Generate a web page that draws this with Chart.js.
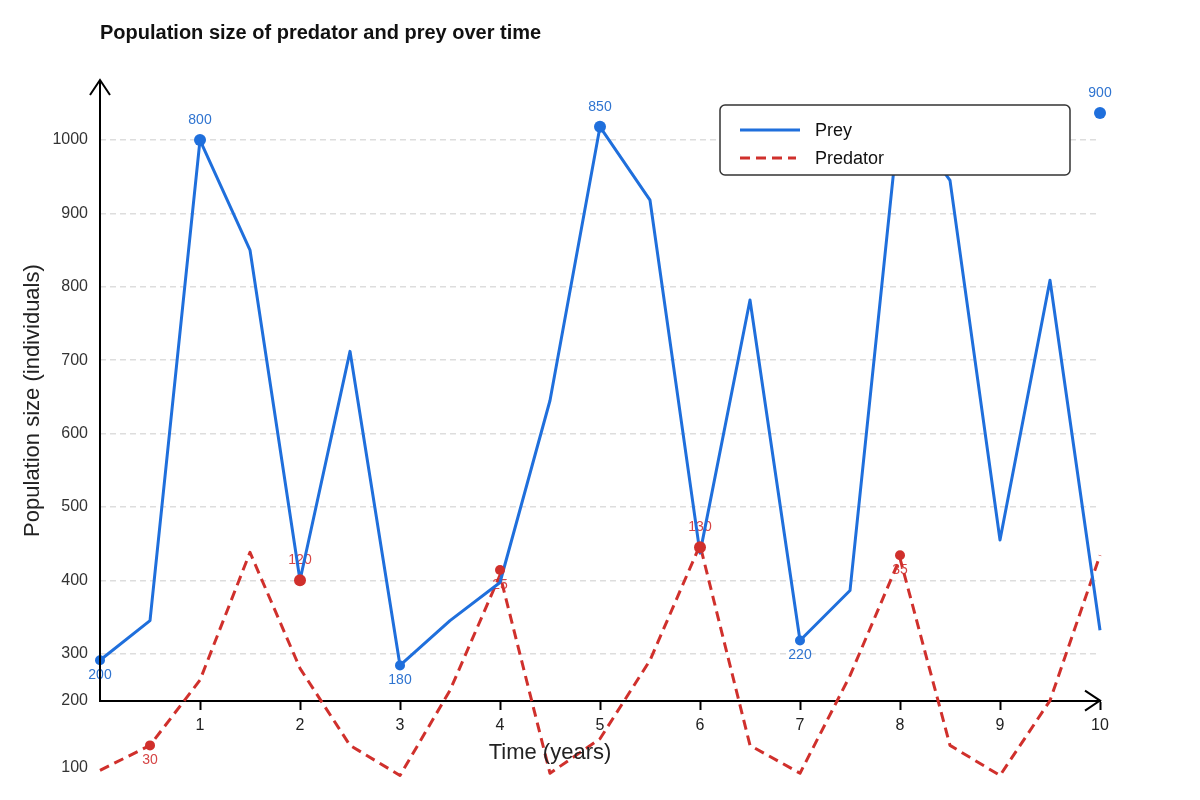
<!DOCTYPE html>
<html>
<head>
<meta charset="utf-8">
<script src="https://cdn.jsdelivr.net/npm/chart.js@4.4.1/dist/chart.umd.min.js"></script>
<style>
  html, body { margin: 0; padding: 0; background: #ffffff; }
  #wrap { width: 1200px; height: 800px; position: relative; }
</style>
</head>
<body>
<div id="wrap"><canvas id="c"></canvas></div>
<script>
// ---- data ----
const years = [0, 0.5, 1, 1.5, 2, 2.5, 3, 3.5, 4, 4.5, 5, 5.5, 6, 6.5, 7, 7.5, 8, 8.5, 9, 9.5, 10];
const preyValues = [291, 345, 1000, 850, 400, 712, 284, 345, 397, 645, 1018, 918, 437, 782, 318, 386, 1040, 945, 455, 809, 332];
const predatorValues = [141, 175, 264, 438, 280, 175, 134, 250, 407, 137, 184, 291, 448, 175, 137, 270, 430, 175, 134, 236, 434];

const preyMarkerYears = [0, 1, 3, 5, 7, 10];
const preyMarkerValues = [291, 1000, 284, 1018, 318, 1037];
const preyMarkerLabels = ['200', '800', '180', '850', '220', '900'];

const predatorMarkerYears = [0.5, 2, 4, 6, 8];
const predatorMarkerValues = [175, 400, 414, 445, 434];
const predatorMarkerLabels = ['30', '120', '25', '130', '35'];

const xTickValues = [1, 2, 3, 4, 5, 6, 7, 8, 9, 10];
const yTickValues = [145, 236, 300, 400, 500, 600, 700, 800, 900, 1000];
const yTickLabels = ['100', '200', '300', '400', '500', '600', '700', '800', '900', '1000'];
const xAxisBaseValue = 236;

const chartTitle = 'Population size of predator and prey over time';
const xTitle = 'Time (years)';
const yTitle = 'Population size (individuals)';
const seriesNames = ['Prey', 'Predator'];

// ---- styles ----
const PREY = '#1f6fdc';
const PRED = '#d0302c';
const PREY_TXT = '#2f74d0';
const PRED_TXT = '#d54444';
const FONT = "'Liberation Sans', Arial, sans-serif";

function isBig(labels, i) {
  const nums = labels.map(Number);
  return Number(labels[i]) > Math.max(...nums) / 2;
}

const markerLabelPlugin = {
  id: 'markerLabels',
  beforeDatasetsDraw(chart) {
    const ctx = chart.ctx;
    ctx.save();
    ctx.font = '14px ' + FONT;
    ctx.textAlign = 'center';
    ctx.textBaseline = 'middle';
    chart.data.datasets.forEach((ds, di) => {
      if (!ds.markerLabels) return;
      const meta = chart.getDatasetMeta(di);
      meta.data.forEach((pt, i) => {
        const big = isBig(ds.markerLabels, i);
        ctx.fillStyle = ds.labelColor;
        ctx.fillText(ds.markerLabels[i], pt.x, big ? pt.y - 20 : pt.y + 15);
      });
    });
    ctx.restore();
  }
};

const axesPlugin = {
  id: 'axesArrows',
  afterDatasetsDraw(chart) {
    const ctx = chart.ctx;
    const xs = chart.scales.x, ys = chart.scales.y;
    const x0 = xs.getPixelForValue(0);
    const x1 = xs.getPixelForValue(10);
    const yb = ys.getPixelForValue(xAxisBaseValue);
    const yt = chart.chartArea.top;
    ctx.save();
    ctx.strokeStyle = '#000';
    ctx.lineWidth = 2;
    ctx.lineCap = 'butt';
    ctx.beginPath();
    ctx.moveTo(x0, yb + 1);
    ctx.lineTo(x0, yt);
    ctx.stroke();
    ctx.beginPath();
    ctx.moveTo(x0 - 10, yt + 15);
    ctx.lineTo(x0, yt);
    ctx.lineTo(x0 + 10, yt + 15);
    ctx.stroke();
    ctx.beginPath();
    ctx.moveTo(x1 - 15, yb - 10);
    ctx.lineTo(x1, yb);
    ctx.lineTo(x1 - 15, yb + 10);
    ctx.stroke();
    // axis titles
    ctx.fillStyle = '#222';
    ctx.font = '22px ' + FONT;
    ctx.textAlign = 'center';
    ctx.textBaseline = 'middle';
    ctx.fillText(xTitle, xs.getPixelForValue(4.5), yb + 52);
    ctx.translate(33, ys.getPixelForValue(600) - 33);
    ctx.rotate(-Math.PI / 2);
    ctx.fillText(yTitle, 0, 0);
    ctx.restore();
  }
};

const legendPlugin = {
  id: 'boxLegend',
  afterDraw(chart) {
    const ctx = chart.ctx;
    const bx = 720, by = 105, bw = 350, bh = 70;
    ctx.save();
    ctx.beginPath();
    ctx.roundRect(bx, by, bw, bh, 5);
    ctx.fillStyle = '#ffffff';
    ctx.fill();
    ctx.lineWidth = 1.5;
    ctx.strokeStyle = '#333333';
    ctx.stroke();
    const items = [chart.data.datasets[0], chart.data.datasets[1]];
    items.forEach((ds, i) => {
      const y = by + 25 + i * 28;
      ctx.beginPath();
      ctx.setLineDash(ds.borderDash || []);
      ctx.strokeStyle = ds.borderColor;
      ctx.lineWidth = 3;
      ctx.moveTo(bx + 20, y);
      ctx.lineTo(bx + (ds.borderDash ? 76 : 80), y);
      ctx.stroke();
      ctx.setLineDash([]);
      ctx.fillStyle = '#111';
      ctx.font = '18px ' + FONT;
      ctx.textAlign = 'left';
      ctx.textBaseline = 'middle';
      ctx.fillText(ds.label, bx + 95, y + 1);
    });
    ctx.restore();
  }
};

const toXY = (xsArr, ysArr) => xsArr.map((x, i) => ({ x: x, y: ysArr[i] }));

new Chart(document.getElementById('c'), {
  type: 'line',
  data: {
    datasets: [
      {
        label: seriesNames[0],
        data: toXY(years, preyValues),
        borderColor: PREY,
        backgroundColor: PREY,
        borderWidth: 3,
        borderJoinStyle: 'round',
        pointRadius: 0,
        tension: 0,
        fill: false,
        clip: false,
        order: 2
      },
      {
        label: seriesNames[1],
        data: toXY(years, predatorValues),
        borderColor: PRED,
        backgroundColor: PRED,
        borderWidth: 3,
        borderDash: [10, 6],
        borderJoinStyle: 'round',
        pointRadius: 0,
        tension: 0,
        fill: false,
        clip: false,
        order: 3
      },
      {
        label: seriesNames[0] + ' markers',
        type: 'scatter',
        data: toXY(preyMarkerYears, preyMarkerValues),
        markerLabels: preyMarkerLabels,
        labelColor: PREY_TXT,
        backgroundColor: PREY,
        borderColor: PREY,
        pointRadius: (c) => isBig(preyMarkerLabels, c.dataIndex) ? 6 : 5,
        borderWidth: 0,
        showLine: false,
        clip: false,
        order: 1
      },
      {
        label: seriesNames[1] + ' markers',
        type: 'scatter',
        data: toXY(predatorMarkerYears, predatorMarkerValues),
        markerLabels: predatorMarkerLabels,
        labelColor: PRED_TXT,
        backgroundColor: PRED,
        borderColor: PRED,
        pointRadius: (c) => isBig(predatorMarkerLabels, c.dataIndex) ? 6 : 5,
        borderWidth: 0,
        showLine: false,
        clip: false,
        order: 0
      }
    ]
  },
  options: {
    responsive: true,
    maintainAspectRatio: false,
    animation: false,
    events: [],
    layout: { padding: { left: 0, right: 100, top: 0, bottom: 10 } },
    plugins: {
      legend: { display: false },
      tooltip: { enabled: false },
      title: {
        display: true,
        text: chartTitle,
        align: 'start',
        fullSize: false,
        color: '#111',
        font: { family: FONT, size: 20, weight: 'bold' },
        padding: { top: 21, bottom: 35 }
      }
    },
    scales: {
      x: {
        type: 'linear',
        position: { y: xAxisBaseValue },
        min: 0,
        max: 10,
        afterBuildTicks: (s) => { s.ticks = xTickValues.map(v => ({ value: v })); },
        ticks: {
          color: '#222',
          font: { family: FONT, size: 16 },
          padding: 7,
          maxRotation: 0,
          autoSkip: false
        },
        grid: {
          drawOnChartArea: false,
          drawTicks: true,
          tickLength: 8,
          tickColor: '#000',
          tickWidth: 2
        },
        border: { display: true, color: '#000', width: 2 },
        title: { display: false }
      },
      y: {
        type: 'linear',
        position: 'left',
        min: 130,
        max: 1081.82,
        afterBuildTicks: (s) => { s.ticks = yTickValues.map(v => ({ value: v })); },
        afterFit: (s) => { s.width = 100; },
        ticks: {
          color: '#333',
          font: { family: FONT, size: 16 },
          padding: 12,
          autoSkip: false,
          callback: (v, i) => yTickLabels[i]
        },
        grid: {
          drawTicks: false,
          color: (c) => (c.tick && c.tick.value >= 300) ? '#dddddd' : 'rgba(0,0,0,0)',
          lineWidth: 1.5
        },
        border: { display: false, dash: [6, 4] },
        title: { display: false }
      }
    }
  },
  plugins: [markerLabelPlugin, axesPlugin, legendPlugin]
});
</script>
</body>
</html>
